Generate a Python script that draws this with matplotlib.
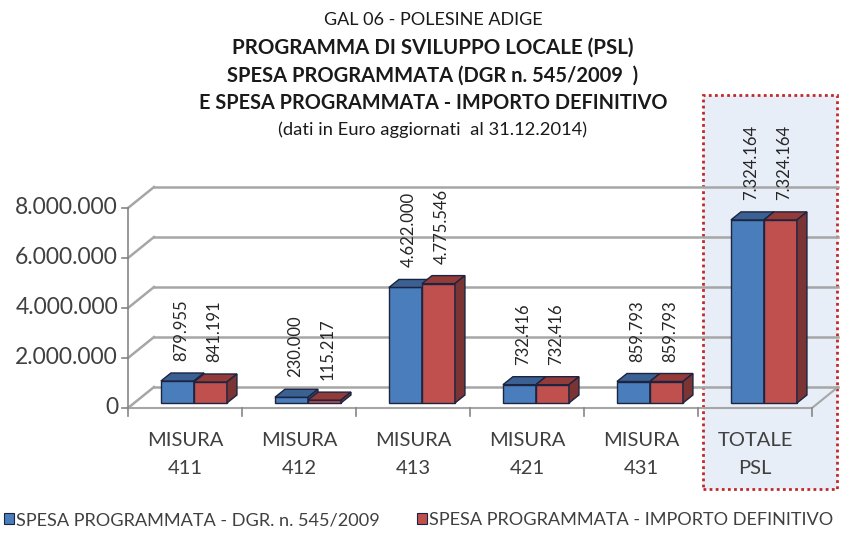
import matplotlib
matplotlib.use("Agg")
import matplotlib.pyplot as plt
from matplotlib.patches import Polygon, Rectangle, Patch

plt.rcParams["font.family"] = ["Lato", "DejaVu Sans"]

# dati
categorie = ["MISURA\n411", "MISURA\n412", "MISURA\n413", "MISURA\n421", "MISURA\n431", "TOTALE\nPSL"]
spesa_dgr = [879955, 230000, 4622000, 732416, 859793, 7324164]
spesa_def = [841191, 115217, 4775546, 732416, 859793, 7324164]
serie_nomi = ["SPESA PROGRAMMATA - DGR. n. 545/2009", "SPESA PROGRAMMATA - IMPORTO DEFINITIVO"]
y_ticks = [0, 2000000, 4000000, 6000000, 8000000]

titolo = ["GAL 06 - POLESINE ADIGE",
          "PROGRAMMA DI SVILUPPO LOCALE (PSL)",
          "SPESA PROGRAMMATA (DGR n. 545/2009  )",
          "E SPESA PROGRAMMATA - IMPORTO DEFINITIVO",
          "(dati in Euro aggiornati  al 31.12.2014)"]

# scala: 114 px per categoria, 25 px per milione
W, H = 848, 536
PXC = 114.0
PXV = 25e-6
X0, Y0 = 128, 408  # fronte asse, pixel


def px2x(px):
    return (px - X0) / PXC - 0.5


def py2v(py):
    return (Y0 - py) / PXV


DX, DY = 26 / PXC, 21 / PXV          # profondita' pavimento
BOX, BOY = 6 / PXC, 5 / PXV          # barre spostate indietro
BDX, BDY = 10 / PXC, 8 / PXV         # profondita' barre
BW = 33 / PXC                        # larghezza barra

fig = plt.figure(figsize=(W / 100, H / 100), dpi=100)
ax = fig.add_axes([0, 0, 1, 1])
ax.set_xlim(px2x(0), px2x(W))
ax.set_ylim(py2v(H), py2v(0))
ax.axis("off")

n = len(categorie)
grid_c = "#a6a6a6"
txt_c = "#404040"

# riquadro evidenziato TOTALE
ax.add_patch(Rectangle((px2x(703), py2v(489)), px2x(837) - px2x(703), py2v(95) - py2v(489),
                       facecolor="#e8eef8", edgecolor="#c0292b", linewidth=2,
                       linestyle=(0, (1, 1.2)), zorder=0))

# griglia parete di fondo e laterale
for v in y_ticks:
    ax.plot([-0.5 + DX, n - 0.5 + DX], [v + DY, v + DY], color=grid_c, lw=1.8, zorder=1)
    ax.plot([-0.5, -0.5 + DX], [v, v + DY], color=grid_c, lw=1.8, zorder=1)
    ax.plot([-0.5 - 0.05, -0.5], [v, v], color="#868686", lw=1.2, zorder=1)
    ax.text(px2x(118), v, f"{v:,}".replace(",", "."), ha="right", va="center",
            fontsize=16.5, color=txt_c)

# pavimento e asse
ax.plot([-0.5, n - 0.5, n - 0.5 + DX], [0, 0, DY], color=grid_c, lw=1.5, zorder=1)
ax.plot([-0.5, -0.5], [0, y_ticks[-1]], color="#868686", lw=1.2, zorder=1)
for k in range(n + 1):
    ax.plot([k - 0.5, k - 0.5], [0, -0.32e6], color="#868686", lw=1.2, zorder=1)

# etichette categorie
for i, c in enumerate(categorie):
    r1, r2 = c.split("\n")
    ax.text(i, py2v(441), r1, ha="center", va="center", fontsize=14.5, color=txt_c)
    ax.text(i, py2v(468), r2, ha="center", va="center", fontsize=14.5, color=txt_c)

colori = [("#4a7dbc", "#3b6192", "#2f4f7a"), ("#c0504d", "#943a38", "#7a3433")]
edge = "#1c2440"


def barra3d(x, h, col, z):
    front, top, side = col
    b = BOY
    ax.bar(x, h, width=BW, bottom=b, align="edge", color=front, edgecolor=edge,
           linewidth=1, zorder=z)
    ax.add_patch(Polygon([(x, b + h), (x + BW, b + h), (x + BW + BDX, b + h + BDY),
                          (x + BDX, b + h + BDY)], closed=True, facecolor=top,
                         edgecolor=edge, linewidth=1, zorder=z))
    ax.add_patch(Polygon([(x + BW, b), (x + BW + BDX, b + BDY), (x + BW + BDX, b + h + BDY),
                          (x + BW, b + h)], closed=True, facecolor=side,
                         edgecolor=edge, linewidth=1, zorder=z))


for i in range(n):
    x_left = i - 0.211
    for j, serie in enumerate([spesa_dgr, spesa_def]):
        xb = x_left + j * BW
        barra3d(xb, serie[i], colori[j], 3 + i * 2 + j)
        ax.text(xb + BW / 2 + 0.03, serie[i] + BOY + 0.8e6, f"{serie[i]:,}".replace(",", "."),
                rotation=90, ha="center", va="bottom", fontsize=12, color="#262626", zorder=20)

# titolo
ys = [20, 48, 76, 103, 130]
sizes = [13, 14.8, 14.5, 14.3, 13.2]
for k, (t, yy) in enumerate(zip(titolo, ys)):
    bold = k in (1, 2, 3)
    fig.text(433 / W, 1 - yy / H, t, ha="center", va="center", fontsize=sizes[k],
             fontweight="bold" if bold else "normal", color="#1a1a1a")

# legenda
handles = [Patch(facecolor=colori[j][0], edgecolor=edge, linewidth=0.8) for j in range(2)]
fig.legend(handles, serie_nomi, loc="center left", bbox_to_anchor=(0.0, 1 - 520 / H),
           ncol=2, frameon=False, fontsize=13.1, handlelength=0.55, handleheight=0.55,
           handletextpad=0.15, columnspacing=2.0, borderaxespad=0, borderpad=0.2,
           labelcolor=txt_c)

fig.savefig("out.png", dpi=100)
